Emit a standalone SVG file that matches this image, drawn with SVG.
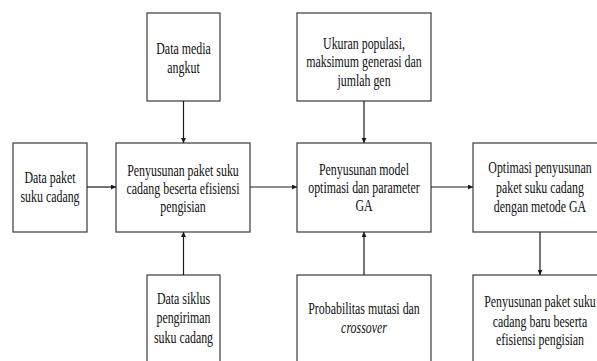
<svg xmlns="http://www.w3.org/2000/svg" width="597" height="361" viewBox="0 0 597 361">
<style>
rect{fill:#fff;stroke:#3a3a3a;stroke-width:1.2}
text{font-family:'Liberation Serif',serif;font-size:17px;fill:#111;text-anchor:middle}
.c line{stroke:#1a1a1a;stroke-width:1.2;marker-end:url(#ah)}
</style>
<defs>
<marker id="ah" viewBox="0 0 10 10" refX="10" refY="5" markerWidth="5" markerHeight="5" markerUnits="userSpaceOnUse" orient="auto"><path d="M0,0L10,5L0,10z" fill="#1a1a1a"/></marker>
</defs>
<rect x="-10" y="-10" width="620" height="380" style="stroke:none"/>
<g id="media">
<rect x="147" y="13" width="73" height="88"/>
<text transform="translate(183.5,0) scale(0.7,1)"><tspan x="0" y="54">Data media</tspan><tspan x="0" y="73">angkut</tspan></text>
</g>
<g id="ukuran">
<rect x="297" y="13" width="134" height="88"/>
<text transform="translate(364,0) scale(0.7,1)"><tspan x="0" y="49">Ukuran populasi,</tspan><tspan x="0" y="67">maksimum generasi dan</tspan><tspan x="0" y="86">jumlah gen</tspan></text>
</g>
<g id="paket">
<rect x="13" y="143" width="74" height="89"/>
<text transform="translate(50,0) scale(0.7,1)"><tspan x="0" y="183">Data paket</tspan><tspan x="0" y="202">suku cadang</tspan></text>
</g>
<g id="penyusunan">
<rect x="116" y="143" width="134" height="89"/>
<text transform="translate(183,0) scale(0.7,1)"><tspan x="0" y="176">Penyusunan paket suku</tspan><tspan x="0" y="194">cadang beserta efisiensi</tspan><tspan x="0" y="212">pengisian</tspan></text>
</g>
<g id="model">
<rect x="297" y="143" width="134" height="89"/>
<text transform="translate(364,0) scale(0.7,1)"><tspan x="0" y="175">Penyusunan model</tspan><tspan x="0" y="193">optimasi dan parameter</tspan><tspan x="0" y="211">GA</tspan></text>
</g>
<g id="optimasi">
<rect x="473" y="143" width="134" height="89"/>
<text transform="translate(540,0) scale(0.7,1)"><tspan x="0" y="173">Optimasi penyusunan</tspan><tspan x="0" y="193">paket suku cadang</tspan><tspan x="0" y="212">dengan metode GA</tspan></text>
</g>
<g id="siklus">
<rect x="147" y="275" width="73" height="95"/>
<text transform="translate(183.5,0) scale(0.7,1)"><tspan x="0" y="304">Data siklus</tspan><tspan x="0" y="323">pengiriman</tspan><tspan x="0" y="343">suku cadang</tspan></text>
</g>
<g id="probabilitas">
<rect x="297" y="275" width="134" height="95"/>
<text transform="translate(364,0) scale(0.7,1)"><tspan x="0" y="314">Probabilitas mutasi dan</tspan><tspan x="0" y="333" font-style="italic">crossover</tspan></text>
</g>
<g id="hasil">
<rect x="473" y="275" width="134" height="95"/>
<text transform="translate(540,0) scale(0.7,1)"><tspan x="0" y="307">Penyusunan paket suku</tspan><tspan x="0" y="327">cadang baru beserta</tspan><tspan x="0" y="345">efisiensi pengisian</tspan></text>
</g>
<g id="connectors" class="c">
<line x1="183.5" y1="101" x2="183.5" y2="143"/>
<line x1="87" y1="187" x2="116" y2="187"/>
<line x1="183.5" y1="275" x2="183.5" y2="232"/>
<line x1="250" y1="187" x2="297" y2="187"/>
<line x1="364" y1="101" x2="364" y2="143"/>
<line x1="364" y1="275" x2="364" y2="232"/>
<line x1="431" y1="187" x2="473" y2="187"/>
<line x1="540" y1="232" x2="540" y2="275"/>
</g>
</svg>
